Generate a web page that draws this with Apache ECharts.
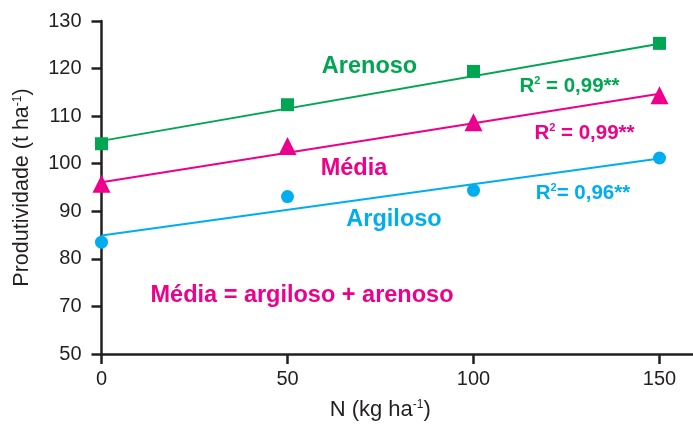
<!DOCTYPE html>
<html>
<head>
<meta charset="utf-8">
<script src="https://cdn.jsdelivr.net/npm/echarts@6/dist/echarts.min.js"></script>
<style>
html,body{margin:0;padding:0;background:#fff;}
#chart{width:693px;height:426px;}
</style>
</head>
<body>
<div id="chart"></div>
<script>
// ---- data ----
const nLevels = [0, 50, 100, 150];
const arenoso = [104.2, 112.4, 119.4, 125.3];
const media = [95.8, 103.7, 108.7, 114.4];
const argiloso = [83.5, 93.1, 94.4, 101.2];
const fitX = [0, 150];
const arenosoFit = [104.8, 125.2];
const mediaFit = [96.1, 114.7];
const argilosoFit = [84.9, 101.1];
const xTickValues = [0, 50, 100, 150];
const yTickValues = [60, 70, 80, 90, 100, 110, 120, 130];
const yTickLabels = ['50', '70', '80', '90', '100', '110', '120', '130'];

const GREEN = '#00A651', MAGENTA = '#EC008C', BLUE = '#00AEEF', AX = '#231f20';
const FONT = "'Liberation Sans', Arial, Helvetica, sans-serif";

const pair = (xs, ys) => xs.map((x, i) => [x, ys[i]]);

const chart = echarts.init(document.getElementById('chart'), null, {renderer: 'canvas'});

function rText(x, y, main, sup, rest, color, size) {
  return {
    type: 'text', x: x, y: y, z: 100,
    style: {
      text: sup == null ? '{b|' + main + '}' : '{b|' + main + '}{s|' + sup + '}{b|' + rest + '}',
      align: 'center', verticalAlign: 'middle',
      rich: {
        b: {fontSize: size, fontWeight: 'bold', fontFamily: FONT, fill: color, color: color},
        s: {fontSize: Math.round(size * 0.55), fontWeight: 'bold', fontFamily: FONT, fill: color, color: color, verticalAlign: 'top'}
      }
    }
  };
}

chart.setOption({
  animation: false,
  backgroundColor: '#fff',
  grid: {left: 101.5, right: 0, top: 21, bottom: 71, containLabel: false},
  xAxis: {
    type: 'value', min: 0, max: 159, interval: 50,
    name: 'N (kg ha{s|-1})', nameLocation: 'middle', nameGap: 45,
    nameTextStyle: {
      fontSize: 22, fontFamily: FONT, color: AX, padding: [0, 34, 0, 0],
      rich: {s: {fontSize: 12, fontFamily: FONT, color: AX, verticalAlign: 'top'}}
    },
    axisLine: {show: true, lineStyle: {color: AX, width: 2.5}},
    axisTick: {show: true, length: 10, lineStyle: {color: AX, width: 2.5}, customValues: xTickValues},
    axisLabel: {fontSize: 20, fontFamily: FONT, color: AX, margin: 15, customValues: xTickValues},
    splitLine: {show: false}
  },
  yAxis: {
    type: 'value', min: 60, max: 130, interval: 10,
    name: 'Produtividade (t ha{s|-1})', nameLocation: 'middle', nameGap: 68,
    nameTextStyle: {
      fontSize: 21.5, fontFamily: FONT, color: AX,
      rich: {s: {fontSize: 12, fontFamily: FONT, color: AX, verticalAlign: 'top'}}
    },
    axisLine: {show: true, lineStyle: {color: AX, width: 2.5}},
    axisTick: {show: true, length: 10, lineStyle: {color: AX, width: 2.5}},
    axisLabel: {
      fontSize: 20, fontFamily: FONT, color: AX, margin: 20, padding: [5, 0, 0, 0],
      formatter: v => { const i = yTickValues.indexOf(v); return i >= 0 ? yTickLabels[i] : ''; }
    },
    splitLine: {show: false}
  },
  series: [
    {type: 'line', data: pair(fitX, arenosoFit), symbol: 'none', lineStyle: {color: GREEN, width: 2}, z: 2},
    {type: 'line', data: pair(fitX, mediaFit), symbol: 'none', lineStyle: {color: MAGENTA, width: 2}, z: 2},
    {type: 'line', data: pair(fitX, argilosoFit), symbol: 'none', lineStyle: {color: BLUE, width: 2}, z: 2},
    {type: 'scatter', name: 'Arenoso', data: pair(nLevels, arenoso), symbol: 'rect', symbolSize: 13, itemStyle: {color: GREEN, opacity: 1}, z: 5},
    {type: 'scatter', name: 'Média', data: pair(nLevels, media), symbol: 'triangle', symbolSize: [18, 18], itemStyle: {color: MAGENTA, opacity: 1}, z: 5},
    {type: 'scatter', name: 'Argiloso', data: pair(nLevels, argiloso), symbol: 'circle', symbolSize: 13, itemStyle: {color: BLUE, opacity: 1}, z: 5}
  ],
  graphic: [
    rText(369.5, 67, 'Arenoso', null, null, GREEN, 23.5),
    rText(354, 169, 'Média', null, null, MAGENTA, 23.5),
    rText(394, 220, 'Argiloso', null, null, BLUE, 23.5),
    rText(302, 296, 'Média = argiloso + arenoso', null, null, MAGENTA, 23.5),
    rText(569.5, 86, 'R', '2', ' = 0,99**', GREEN, 20.5),
    rText(584.5, 133, 'R', '2', ' = 0,99**', MAGENTA, 20.5),
    rText(583, 193, 'R', '2', '= 0,96**', BLUE, 20.5)
  ]
});
</script>
</body>
</html>
